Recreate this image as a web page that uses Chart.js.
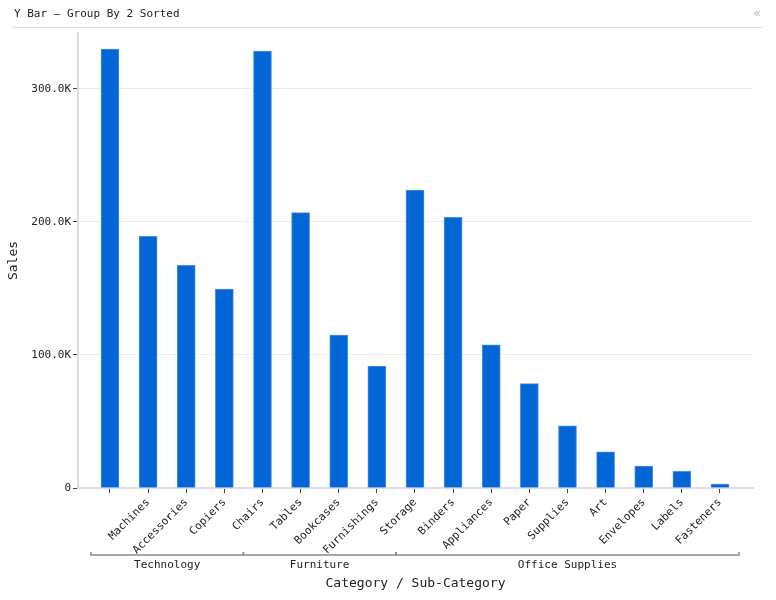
<!DOCTYPE html>
<html>
<head>
<meta charset="utf-8">
<script src="https://cdn.jsdelivr.net/npm/chart.js@4.4.1/dist/chart.umd.min.js"></script>
<style>
html,body{margin:0;padding:0;background:#fff;}
#wrap{position:relative;width:776px;height:600px;}
</style>
</head>
<body>
<div id="wrap"><canvas id="c" width="776" height="600"></canvas></div>
<script>
const chartTitle = "Y Bar — Group By 2 Sorted";
const subCategories = ["Phones","Machines","Accessories","Copiers","Chairs","Tables","Bookcases","Furnishings","Storage","Binders","Appliances","Paper","Supplies","Art","Envelopes","Labels","Fasteners"];
const sales = [330007,189239,167380,149528,328449,206966,114880,91705,223844,203413,107532,78479,46674,27119,16476,12486,3024];
const groupNames = ["Technology","Furniture","Office Supplies"];
const groupSizes = [4,4,9];
const yTicks = [0,100000,200000,300000];
const yMax = 342000;
const xTitle = "Category / Sub-Category";
const yTitle = "Sales";
const hiddenTickLabels = ["Phones"]; // not printed in the reference

const MONO = "'DejaVu Sans Mono', 'Liberation Mono', monospace";

const overlay = {
  id: 'overlay',
  afterDraw(chart) {
    const ctx = chart.ctx;
    const xs = chart.scales.x, area = chart.chartArea;
    ctx.save();
    // header
    ctx.fillStyle = '#222';
    ctx.font = "11px " + MONO;
    ctx.textAlign = 'left'; ctx.textBaseline = 'middle';
    ctx.fillText(chartTitle, 14, 14.5);
    ctx.strokeStyle = '#e0e0e0'; ctx.lineWidth = 1;
    ctx.beginPath(); ctx.moveTo(12, 27.5); ctx.lineTo(763, 27.5); ctx.stroke();
    ctx.fillStyle = '#bbbbbb';
    ctx.font = "13px 'DejaVu Sans'";
    ctx.textAlign = 'center';
    ctx.fillText('«', 757, 13.5);
    // group brackets
    let start = 0;
    ctx.strokeStyle = '#8a8a8a'; ctx.lineWidth = 1.5;
    ctx.font = "11px " + MONO; ctx.fillStyle = '#222';
    const yLine = 555;
    groupNames.forEach((g, i) => {
      const x0 = xs.getPixelForValue(start - 0.5);
      const x1 = xs.getPixelForValue(start + groupSizes[i] - 0.5);
      ctx.beginPath();
      ctx.moveTo(x0, yLine - 3); ctx.lineTo(x0, yLine); ctx.lineTo(x1, yLine); ctx.lineTo(x1, yLine - 3);
      ctx.stroke();
      ctx.textAlign = 'center'; ctx.textBaseline = 'middle';
      ctx.fillText(g, (x0 + x1) / 2, 565);
      start += groupSizes[i];
    });
    // axis titles
    ctx.font = "13px " + MONO; ctx.fillStyle = '#222';
    ctx.textAlign = 'center'; ctx.textBaseline = 'middle';
    ctx.fillText(xTitle, (area.left + area.right) / 2, 584);
    ctx.save();
    ctx.translate(14, (area.top + area.bottom) / 2);
    ctx.rotate(-Math.PI / 2);
    ctx.fillText(yTitle, 0, 0);
    ctx.restore();
    ctx.restore();
  }
};

new Chart(document.getElementById('c'), {
  type: 'bar',
  data: {
    datasets: [{
      data: sales.map((v, i) => ({x: i, y: v})),
      backgroundColor: '#0366d6',
      borderColor: '#4a8fe0',
      borderWidth: 1,
      barThickness: 18
    }]
  },
  options: {
    responsive: false,
    devicePixelRatio: 1,
    animation: false,
    layout: {padding: {top: 33, right: 23, left: 0, bottom: 0}},
    plugins: {legend: {display: false}, tooltip: {enabled: false}},
    scales: {
      x: {
        type: 'linear',
        offset: false,
        min: -0.839,
        max: 16.866,
        afterBuildTicks(scale) { scale.ticks = subCategories.map((_, i) => ({value: i})); },
        afterFit(scale) { scale.height = 112; },
        ticks: {
          autoSkip: false,
          maxRotation: 45, minRotation: 45,
          padding: 3,
          color: '#222',
          font: {family: MONO, size: 11},
          callback: (v) => {
            const name = subCategories[v];
            return hiddenTickLabels.includes(name) ? '' : name;
          }
        },
        grid: {offset: false, drawOnChartArea: false, tickLength: 5, tickColor: '#444', tickWidth: 1},
        border: {color: '#dcdce4', width: 2}
      },
      y: {
        min: 0,
        max: yMax,
        afterBuildTicks(scale) { scale.ticks = yTicks.map(v => ({value: v})); },
        afterFit(scale) { scale.width = 78; },
        ticks: {
          padding: 2,
          color: '#222',
          font: {family: MONO, size: 11},
          callback: (v) => v === 0 ? '0' : (v / 1000).toFixed(1) + 'K'
        },
        grid: {color: '#ebebeb', tickLength: 5, tickColor: '#444', lineWidth: 1},
        border: {color: '#dcdce4', width: 2}
      }
    }
  },
  plugins: [overlay]
});
</script>
</body>
</html>
